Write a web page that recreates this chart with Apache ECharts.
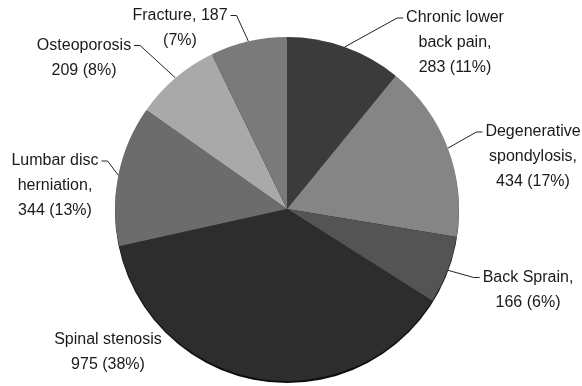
<!DOCTYPE html>
<html>
<head>
<meta charset="utf-8">
<script src="https://cdn.jsdelivr.net/npm/echarts@6/dist/echarts.min.js"></script>
<style>
  html, body { margin: 0; padding: 0; background: #fff; }
  #chart { width: 582px; height: 386px; }
</style>
</head>
<body>
<div id="chart"></div>
<script>
// Diagnoses, clockwise from 12 o'clock
const categories = [
  'Chronic lower back pain',
  'Degenerative spondylosis',
  'Back Sprain',
  'Spinal stenosis',
  'Lumbar disc herniation',
  'Osteoporosis',
  'Fracture'
];
const counts = [283, 434, 166, 975, 344, 209, 187];
const percents = [11, 17, 6, 38, 13, 8, 7];
// Label text as it is broken onto lines
const labelLines = [
  ['Chronic lower', 'back pain,', '283 (11%)'],
  ['Degenerative', 'spondylosis,', '434 (17%)'],
  ['Back Sprain,', '166 (6%)'],
  ['Spinal stenosis', '975 (38%)'],
  ['Lumbar disc', 'herniation,', '344 (13%)'],
  ['Osteoporosis', '209 (8%)'],
  ['Fracture, 187', '(7%)']
];
const shades = ['#3b3b3b', '#858585', '#545454', '#2d2d2d', '#6c6c6c', '#a9a9a9', '#7a7a7a'];

const FONT_SIZE = 16;
const LINE_H = 25;
const FONT = FONT_SIZE + 'px "Liberation Sans", Arial, sans-serif';
const PIE_CENTER = [287, 209];
const PIE_R = 172;

// Centre of each label block, and which side its leader line arrives from
const labelSpots = [
  { x: 455, y: 43, side: 'left' },
  { x: 533, y: 157, side: 'left' },
  { x: 528, y: 290, side: 'left' },
  { x: 108, y: 352, side: 'none' },
  { x: 55, y: 186, side: 'right' },
  { x: 84, y: 58, side: 'right' },
  { x: 180, y: 28, side: 'right' }
];

const measureCtx = document.createElement('canvas').getContext('2d');
measureCtx.font = FONT;
function textWidth(s) { return measureCtx.measureText(s).width; }

const chart = echarts.init(document.getElementById('chart'), null, { renderer: 'canvas' });

const data = categories.map((name, i) => ({
  name,
  value: counts[i],
  itemStyle: { color: shades[i] },
  label: { formatter: labelLines[i].join('\n') },
  labelLine: { show: labelSpots[i].side !== 'none' }
}));

chart.setOption({
  animation: false,
  backgroundColor: '#ffffff',
  series: [
    {
      // dark rim peeking out under the lower edge of the pie
      type: 'pie',
      name: 'rim',
      silent: true,
      z: 1,
      center: [PIE_CENTER[0], PIE_CENTER[1] + 2],
      radius: PIE_R,
      label: { show: false },
      labelLine: { show: false },
      itemStyle: { color: '#0e0e0e', borderWidth: 0 },
      data: [{ value: 1, name: 'rim' }]
    },
    {
      type: 'pie',
      z: 2,
      center: PIE_CENTER,
      radius: PIE_R,
      startAngle: 90,
      clockwise: true,
      data,
      itemStyle: { borderWidth: 0 },
      label: {
        show: true,
        position: 'outside',
        color: '#1a1a1a',
        fontFamily: '"Liberation Sans", Arial, sans-serif',
        fontSize: FONT_SIZE,
        lineHeight: LINE_H,
        align: 'center'
      },
      labelLine: {
        show: true,
        length: 10,
        length2: 10,
        lineStyle: { color: '#222', width: 1 }
      },
      labelLayout: function (params) {
        const i = params.dataIndex;
        const s = labelSpots[i];
        const lines = labelLines[i];
        const out = { x: s.x, y: s.y, align: 'center', verticalAlign: 'middle' };
        if (s.side !== 'none' && params.labelLinePoints) {
          // leader meets the first text line at its outer end
          const firstY = s.y - (lines.length - 1) * LINE_H / 2;
          const half = textWidth(lines[0]) / 2;
          const dir = s.side === 'left' ? -1 : 1;
          const endX = s.x + dir * (half + 3);
          const bendX = endX + dir * 6;
          out.labelLinePoints = [
            params.labelLinePoints[0],
            [bendX, firstY],
            [endX, firstY]
          ];
        }
        return out;
      }
    }
  ]
});
</script>
</body>
</html>
